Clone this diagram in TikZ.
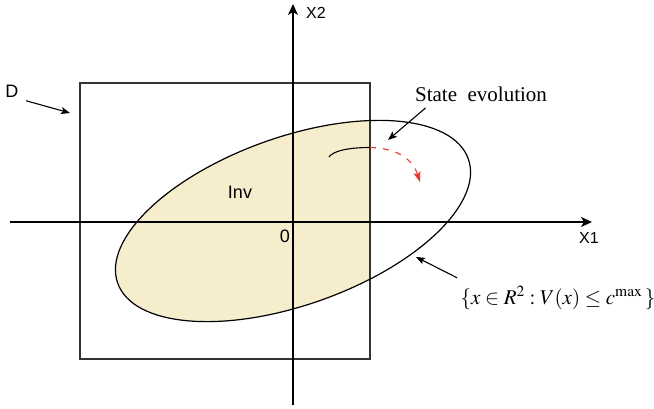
\documentclass[tikz,border=0pt]{standalone}
\usepackage{mathptmx}
\usepackage{fontspec}
\setmainfont{Liberation Serif}
\setsansfont{Liberation Sans}
\usetikzlibrary{arrows.meta}
\definecolor{invfill}{RGB}{246,237,204}
\definecolor{flowred}{RGB}{232,56,46}
\tikzset{
  axis/.style = {line width=1.4pt, -{Stealth[length=11pt, width=10pt, inset=3pt]}},
  domain_box/.style = {draw=black!80, line width=1.3pt},
  level_set/.style = {draw=black, line width=1.2pt},
  pointer/.style = {line width=1.1pt, -{Stealth[length=9pt, width=7pt, inset=2pt]}},
  flow/.style = {line width=1.1pt, draw=flowred, dash pattern=on 6pt off 7pt,
    -{Stealth[length=10pt, width=7pt, inset=2pt]}},% evolution hors de Inv
  axis_label/.style = {font=\sffamily\fontsize{16}{18}\selectfont},
  sans_label/.style = {font=\sffamily\fontsize{18}{20}\selectfont},
  serif_label/.style = {font=\fontsize{21}{24}\selectfont}
}
\begin{document}
\begin{tikzpicture}[x=1pt, y=1pt]
  \useasboundingbox (-293,-186) rectangle (361,222);
  % ensemble Inv = ellipse coupee par le carre D
  \begin{scope}
    \clip (-213,-137) rectangle (77,139);
    \fill[invfill, rotate around={19.5:(0,1)}] (0,1) ellipse [x radius=186pt, y radius=84pt];
  \end{scope}
  \draw[domain_box] (-213,-137) rectangle (77,139);
  \draw[axis] (-283,0) -- (299,0);
  \draw[axis] (0,-183) -- (0,218);
  \draw[level_set, rotate around={19.5:(0,1)}] (0,1) ellipse [x radius=186pt, y radius=84pt];

  \node[axis_label] (x1_label) at (296,-16) {X1};
  \node[axis_label] (x2_label) at (23,209) {X2};
  \node[sans_label] (origin_label) at (-8,-14) {0};
  \node[sans_label] (inv_label) at (-53,30) {Inv};
  \node[sans_label] (d_label) at (-281,131) {D};
  \node[serif_label] (state_label) at (188,128) {State~ evolution};
  \node[serif_label] (set_label) at (265,-76) {$\{x\in R^{2}:V(x)\le c^{\mathrm{max}}\,\}$};

  \coordinate (d_tip) at (-223,109);
  \coordinate (state_tip) at (95,82);
  \coordinate (set_tip) at (123,-35);
  \coordinate (flow_start) at (36,65);
  \coordinate (flow_exit) at (77,74.5);
  \coordinate (flow_end) at (127,40);

  \draw[pointer] ([xshift=4pt]d_label.south east) -- (d_tip);
  \draw[pointer] ([xshift=14pt,yshift=-3pt]state_label.south west) -- (state_tip);
  \draw[pointer] ([yshift=5pt]set_label.north west) -- (set_tip);
  \draw[line width=1.1pt] (flow_start) .. controls (40,71) and (55,74.5) .. (flow_exit);
  \draw[flow] (flow_exit) .. controls (105,74) and (120,62) .. (flow_end);
\end{tikzpicture}
\end{document}
